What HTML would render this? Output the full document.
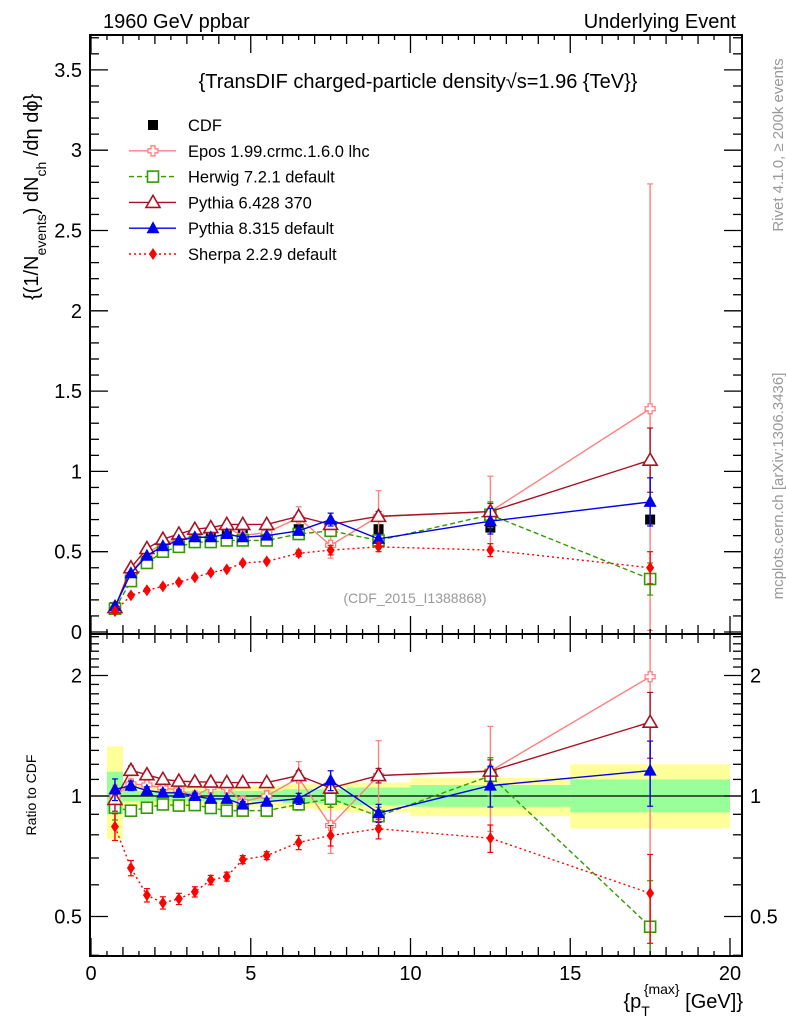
<!DOCTYPE html>
<html><head><meta charset="utf-8"><style>
body{margin:0;background:#fff;overflow:hidden}
svg{display:block;font-family:"Liberation Sans",sans-serif}
</style></head><body>
<svg id="chart" width="786" height="1024" xmlns="http://www.w3.org/2000/svg">
<rect width="786" height="1024" fill="#fff"/>
<text x="103" y="28" font-size="20">1960 GeV ppbar</text>
<text x="736" y="28" font-size="20" text-anchor="end">Underlying Event</text>
<text x="418" y="88" font-size="20" text-anchor="middle">{TransDIF charged-particle density√s=1.96 {TeV}}</text>
<text x="415" y="603" font-size="14" fill="#999" text-anchor="middle">(CDF_2015_I1388868)</text>
<text transform="translate(790,145) rotate(-90)" x="0" y="-7" font-size="15" fill="#999" text-anchor="middle">Rivet 4.1.0, ≥ 200k events</text>
<text transform="translate(790,486) rotate(-90)" x="0" y="-7" font-size="15" fill="#999" text-anchor="middle">mcplots.cern.ch [arXiv:1306.3436]</text>
<text transform="translate(38,300) rotate(-90)" font-size="20">{(1/N<tspan font-size="14" dy="8">events</tspan><tspan dy="-8">) dN</tspan><tspan font-size="14" dy="8">ch</tspan><tspan dy="-8"> /dη  dϕ}</tspan></text>
<text transform="translate(36,795) rotate(-90)" font-size="14" text-anchor="middle">Ratio to CDF</text>
<text x="743" y="1008" font-size="20" text-anchor="end">{p<tspan font-size="14" dy="8">T</tspan><tspan font-size="14" dy="-22" dx="-6">{max}</tspan><tspan dy="14"> [GeV]}</tspan></text>
<g id="plots"></g>
</svg>
<script>
const xs=[0.75,1.25,1.75,2.25,2.75,3.25,3.75,4.25,4.75,5.5,6.5,7.5,9,12.5,17.5];
const binEdges=[0.5,1,1.5,2,2.5,3,3.5,4,4.5,5,6,7,8,10,15,20];
const cdf=[0.155,0.345,0.46,0.525,0.56,0.59,0.60,0.62,0.62,0.62,0.64,0.64,0.64,0.65,0.70];
const relStatHi=[0.15,0.03,0.03,0.03,0.03,0.03,0.03,0.03,0.03,0.03,0.04,0.04,0.05,0.065,0.10];
const relStatLo=[0.10,0.03,0.03,0.03,0.03,0.03,0.03,0.03,0.03,0.03,0.04,0.04,0.05,0.06,0.09];
const relTotHi=[0.33,0.06,0.06,0.06,0.06,0.06,0.06,0.06,0.06,0.06,0.07,0.07,0.08,0.11,0.2];
const relTotLo=[0.22,0.06,0.06,0.06,0.06,0.06,0.06,0.06,0.06,0.06,0.07,0.08,0.09,0.11,0.17];
const epos=[0.155,0.37,0.49,0.55,0.58,0.59,0.63,0.65,0.60,0.62,0.71,0.54,0.72,0.75,1.39];
const eposErr=[0.01,0.01,0.01,0.01,0.01,0.01,0.02,0.02,0.02,0.02,0.07,0.08,0.16,0.22,1.4];
const herwig=[0.145,0.317,0.43,0.50,0.53,0.56,0.56,0.57,0.57,0.57,0.61,0.63,0.57,0.73,0.33];
const herwigErr=[0.01,0.01,0.01,0.01,0.01,0.01,0.01,0.01,0.01,0.01,0.02,0.03,0.03,0.08,0.1];
const py6=[0.152,0.40,0.52,0.578,0.61,0.64,0.65,0.67,0.67,0.67,0.72,0.67,0.72,0.75,1.07];
const py6Err=[0.01,0.01,0.01,0.01,0.01,0.01,0.01,0.01,0.01,0.01,0.02,0.02,0.03,0.05,0.2];
const py8=[0.161,0.366,0.475,0.535,0.57,0.59,0.59,0.61,0.59,0.60,0.63,0.70,0.58,0.69,0.81];
const py8Err=[0.01,0.01,0.01,0.01,0.01,0.01,0.01,0.01,0.01,0.01,0.02,0.04,0.03,0.08,0.15];
const sherpa=[0.13,0.228,0.26,0.284,0.31,0.34,0.37,0.39,0.43,0.44,0.49,0.51,0.53,0.51,0.40];
const sherpaErr=[0.01,0.01,0.01,0.01,0.01,0.01,0.01,0.01,0.01,0.01,0.02,0.03,0.03,0.04,0.1];
const yTicks=[0,0.5,1,1.5,2,2.5,3,3.5];
const yTickLabels=["0","0.5","1","1.5","2","2.5","3","3.5"];
const xTicks=[0,5,10,15,20];
const rTicks=[0.5,1,2];

const NS="http://www.w3.org/2000/svg";
const L=90,R=742,T=35,MB=634,RB=956;
const X=v=>91+v*31.95;
const Y=v=>632-v*160.6;
const RY=v=>796-Math.log2(v)*120.5;
const G=document.getElementById('plots');
function el(tag,attrs,parent){const e=document.createElementNS(NS,tag);for(const k in attrs)e.setAttribute(k,attrs[k]);(parent||G).appendChild(e);return e;}

const clipM=el('clipPath',{id:'cm'});el('rect',{x:L,y:T,width:R-L,height:MB-T},clipM);
const clipR=el('clipPath',{id:'cr'});el('rect',{x:L,y:MB,width:R-L,height:RB-MB},clipR);

// ratio bands
const bandG=el('g',{'clip-path':'url(#cr)'});
binEdges.slice(0,-1).forEach((lo,i)=>{
  const hi=binEdges[i+1];
  const y=el('rect',{x:X(lo),y:RY(1+relTotHi[i]),width:X(hi)-X(lo),height:RY(1-relTotLo[i])-RY(1+relTotHi[i]),fill:'#ffff99'},bandG);
  
  
});
binEdges.slice(0,-1).forEach((lo,i)=>{
  const hi=binEdges[i+1];
  const g=el('rect',{x:X(lo),y:RY(1+relStatHi[i]),width:X(hi)-X(lo),height:RY(1-relStatLo[i])-RY(1+relStatHi[i]),fill:'#99ff99'},bandG);
  
  
});
el('line',{x1:L,x2:R,y1:RY(1),y2:RY(1),stroke:'#000','stroke-width':1.2});

function marker(type,cx,cy,color,parent){
  let m;
  if(type==='sq') m=el('rect',{x:cx-5,y:cy-5,width:10,height:10,fill:color},parent);
  else if(type==='osq') m=el('rect',{x:cx-5.5,y:cy-5.5,width:11,height:11,fill:'#fff',stroke:color,'stroke-width':1.6},parent);
  else if(type==='cross') m=el('path',{d:`M${cx-2},${cy-5}h4v3h3v4h-3v3h-4v-3h-3v-4h3z`,fill:'#fff',stroke:color,'stroke-width':1.3},parent);
  else if(type==='otri') m=el('path',{d:`M${cx},${cy-7}L${cx+7},${cy+5}L${cx-7},${cy+5}Z`,fill:'#fff',stroke:color,'stroke-width':1.6},parent);
  else if(type==='tri') m=el('path',{d:`M${cx},${cy-7}L${cx+6.5},${cy+5}L${cx-6.5},${cy+5}Z`,fill:color},parent);
  else m=el('path',{d:`M${cx},${cy-6}L${cx+4},${cy}L${cx},${cy+6}L${cx-4},${cy}Z`,fill:color},parent);
  return m;
}
const series=[
 {name:'epos',vals:epos,err:eposErr,color:'#ff7f7f',mk:'cross',dash:''},
 {name:'herwig',vals:herwig,err:herwigErr,color:'#339900',mk:'osq',dash:'5,3'},
 {name:'pythia6',vals:py6,err:py6Err,color:'#aa1122',mk:'otri',dash:''},
 {name:'pythia8',vals:py8,err:py8Err,color:'#0000ee',mk:'tri',dash:''},
 {name:'sherpa',vals:sherpa,err:sherpaErr,color:'#ff0000',mk:'dia',dash:'2,3'}
];
function drawSeries(s,ratio){
  const g=el('g',{'clip-path':ratio?'url(#cr)':'url(#cm)'});
  
  
  const fy=(v,i)=>ratio?RY(Math.max(v/cdf[i],0.3)):Y(v);
  const pts=s.vals.map((v,i)=>X(xs[i])+','+fy(v,i)).join(' ');
  const pl=el('polyline',{points:pts,fill:'none',stroke:s.color,'stroke-width':1.4,'stroke-dasharray':s.dash},g);
  
  
  s.vals.forEach((v,i)=>{
    const cx=X(xs[i]);
    const lo=Math.max(v-s.err[i],0.01),hi=v+s.err[i];
    el('line',{x1:cx,x2:cx,y1:fy(lo,i),y2:fy(hi,i),stroke:s.color,'stroke-width':1.4},g);
    el('line',{x1:cx-3,x2:cx+3,y1:fy(lo,i),y2:fy(lo,i),stroke:s.color,'stroke-width':1.2},g);
    el('line',{x1:cx-3,x2:cx+3,y1:fy(hi,i),y2:fy(hi,i),stroke:s.color,'stroke-width':1.2},g);
    const m=marker(s.mk,cx,fy(v,i),s.color,g);
    
    
  });
}
const cg=el('g',{'clip-path':'url(#cm)'});


cdf.forEach((v,i)=>{
  const m=marker('sq',X(xs[i]),Y(v),'#000',cg);
  
  
});
series.forEach(s=>{drawSeries(s,false);drawSeries(s,true);});

const f1=el('rect',{x:L,y:T,width:R-L,height:MB-T,fill:'none',stroke:'#000','stroke-width':2});


const f2=el('rect',{x:L,y:MB,width:R-L,height:RB-MB,fill:'none',stroke:'#000','stroke-width':2});



for(let k=0;k<=40;k++){
  const v=k*0.5;
  const major=k%10===0, mid=k%2===0;
  const len=major?18:(mid?9:5);
  const x=X(v);
  [[MB,-1],[T,1],[RB,-1],[MB,1]].forEach(([y0,d])=>el('line',{x1:x,x2:x,y1:y0,y2:y0+d*len,stroke:'#000','stroke-width':1.3}));
}
xTicks.forEach(v=>{const t=el('text',{x:X(v),y:980,'font-size':20,'text-anchor':'middle'});t.textContent=v;
  });
for(let i=0;i<=37;i++){const v=i/10;const y=Y(v);if(y<T||y>MB)continue;const major=i%5===0;const len=major?18:9;
  el('line',{x1:L,x2:L+len,y1:y,y2:y,stroke:'#000','stroke-width':1.3});el('line',{x1:R,x2:R-len,y1:y,y2:y,stroke:'#000','stroke-width':1.3});}
yTicks.forEach((v,i)=>{const t=el('text',{x:82,y:Y(v)+7,'font-size':20,'text-anchor':'end'});t.textContent=yTickLabels[i];
  });
for(let k=4;k<=25;k++){const v=k/10;const y=RY(v);if(y<MB||y>RB)continue;const major=rTicks.some(r=>Math.abs(r-v)<1e-6);const len=major?18:9;
  el('line',{x1:L,x2:L+len,y1:y,y2:y,stroke:'#000','stroke-width':1.3});el('line',{x1:R,x2:R-len,y1:y,y2:y,stroke:'#000','stroke-width':1.3});}
rTicks.forEach(v=>{const lab=String(v);
  const a=el('text',{x:82,y:RY(v)+7,'font-size':20,'text-anchor':'end'});a.textContent=lab;
  const b=el('text',{x:750,y:RY(v)+7,'font-size':20});b.textContent=lab;});

const lg=el('g',{});


const legNames=['CDF','Epos 1.99.crmc.1.6.0 lhc','Herwig 7.2.1 default','Pythia 6.428 370','Pythia 8.315 default','Sherpa 2.2.9 default'];
legNames.forEach((n,i)=>{
  const y=125+i*25.8;
  const e=el('g',{},lg);
  
  
  if(i===0) marker('sq',153,y,'#000',e);
  else{const s=series[i-1];el('line',{x1:129,x2:176,y1:y,y2:y,stroke:s.color,'stroke-width':1.4,'stroke-dasharray':s.dash},e);marker(s.mk,153,y,s.color,e);}
  const t=el('text',{x:188,y:y+6,'font-size':16.5},e);t.textContent=n;
});
</script>
</body></html>
